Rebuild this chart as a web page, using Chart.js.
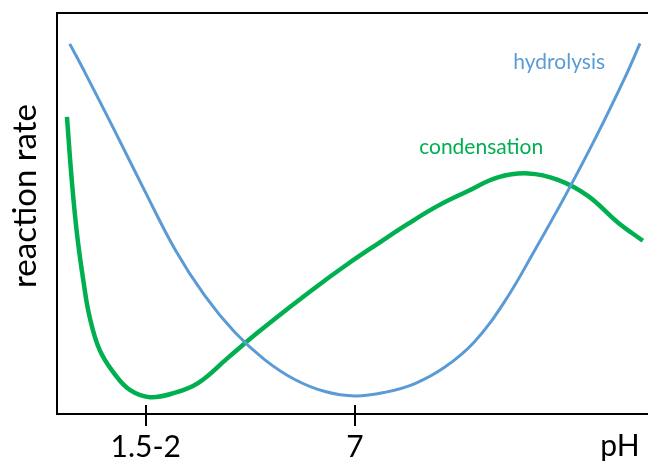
<!DOCTYPE html>
<html>
<head>
<meta charset="utf-8">
<script src="https://cdn.jsdelivr.net/npm/chart.js@4"></script>
<style>
  html, body { margin: 0; padding: 0; background: #fff; }
  #wrap { width: 648px; height: 462px; }
</style>
</head>
<body>
<div id="wrap"><canvas id="chart"></canvas></div>
<script>
// pH positions of the ticks and their labels
const tickValues = [1.75, 7]
const tickLabels = ['1.5-2', '7']

// hydrolysis rate vs pH
const hydrolysisPH = [-0.16, 0.22, 0.97, 1.72, 2.48, 3.23, 3.99, 4.74, 5.49, 6.25, 7.0, 7.75, 8.51, 9.26, 10.01, 10.77, 11.52, 12.28, 13.03, 13.78, 14.16]
const hydrolysisRate = [92.3, 85.2, 70.6, 55.7, 41.1, 29.5, 20.3, 13.5, 8.6, 5.6, 4.5, 5.4, 7.6, 11.7, 18.1, 28.2, 40.9, 54.4, 68.6, 83.9, 92.4]

// condensation rate vs pH
const condensationPH = [-0.23, -0.11, 0.02, 0.19, 0.34, 0.59, 0.95, 1.35, 1.85, 2.45, 3.06, 3.81, 4.56, 5.32, 6.07, 6.82, 7.58, 8.33, 9.08, 9.84, 10.59, 11.35, 12.1, 12.85, 13.61, 14.23]
const condensationRate = [74.1, 58.4, 45.1, 32.7, 24.2, 16.0, 10.2, 6.0, 4.2, 5.2, 7.7, 14.0, 20.3, 26.3, 32.0, 37.4, 42.5, 47.4, 51.9, 55.6, 59.0, 60.0, 58.4, 54.4, 47.7, 43.2]

const toPoints = (xs, ys) => xs.map((x, i) => ({ x: x, y: ys[i] }))

const FONT = 'Lato, "Open Sans", sans-serif'
const BLUE = '#5B9BD5'
const GREEN = '#00B050'

// tick marks crossing the axis, axis titles and curve labels
const extras = {
  id: 'extras',
  afterDraw(chart) {
    const { ctx, chartArea, scales } = chart
    const x = scales.x
    const y = scales.y
    ctx.save()
    ctx.strokeStyle = '#000'
    ctx.lineWidth = 2
    tickValues.forEach((v) => {
      const px = Math.round(x.getPixelForValue(v))
      ctx.beginPath()
      ctx.moveTo(px, chartArea.bottom - 9)
      ctx.lineTo(px, chartArea.bottom + 12)
      ctx.stroke()
    })

    ctx.fillStyle = '#000'
    ctx.font = '30px ' + FONT
    ctx.textAlign = 'center'
    ctx.textBaseline = 'middle'
    ctx.fillText('pH', 620, 446)

    ctx.save()
    ctx.translate(25, 196)
    ctx.rotate(-Math.PI / 2)
    ctx.font = '33px ' + FONT
    ctx.fillText('reaction rate', 0, 0)
    ctx.restore()

    ctx.font = '21px ' + FONT
    ctx.fillStyle = BLUE
    ctx.fillText('hydrolysis', x.getPixelForValue(12.13), y.getPixelForValue(87.7))
    ctx.fillStyle = GREEN
    ctx.fillText('condensation', x.getPixelForValue(10.17), y.getPixelForValue(66.6))
    ctx.restore()
  },
}

const ctx = document.getElementById('chart').getContext('2d')
new Chart(ctx, {
  type: 'line',
  data: {
    datasets: [
      {
        label: 'hydrolysis',
        data: toPoints(hydrolysisPH, hydrolysisRate),
        borderColor: BLUE,
        borderWidth: 3,
        pointRadius: 0,
        tension: 0.4,
      },
      {
        label: 'condensation',
        data: toPoints(condensationPH, condensationRate),
        borderColor: GREEN,
        borderWidth: 4.5,
        pointRadius: 0,
        tension: 0.4,
      },
    ],
  },
  options: {
    responsive: true,
    maintainAspectRatio: false,
    animation: false,
    layout: { padding: { top: 13, left: 0, right: 0, bottom: 0 } },
    plugins: {
      legend: { display: false },
      tooltip: { enabled: false },
    },
    scales: {
      x: {
        type: 'linear',
        min: -0.48,
        max: 14.36,
        afterBuildTicks: (scale) => {
          scale.ticks = tickValues.map((v) => ({ value: v }))
        },
        afterFit: (scale) => {
          scale.height = 48
        },
        grid: { drawOnChartArea: false, drawTicks: false },
        border: { display: true, color: '#000', width: 2 },
        ticks: {
          autoSkip: false,
          maxRotation: 0,
          padding: 18,
          color: '#000',
          font: { family: FONT, size: 30, lineHeight: 1 },
          callback: (v) => tickLabels[tickValues.indexOf(v)],
        },
      },
      xTop: {
        type: 'linear',
        position: 'top',
        min: -0.48,
        max: 14.36,
        grid: { drawOnChartArea: false, drawTicks: false },
        border: { display: true, color: '#000', width: 2 },
        ticks: { display: false },
      },
      y: {
        min: 0,
        max: 100,
        afterFit: (scale) => {
          scale.width = 57
        },
        grid: { drawOnChartArea: false, drawTicks: false },
        border: { display: true, color: '#000', width: 2 },
        ticks: { display: false },
      },
    },
  },
  plugins: [extras],
})
</script>
</body>
</html>
